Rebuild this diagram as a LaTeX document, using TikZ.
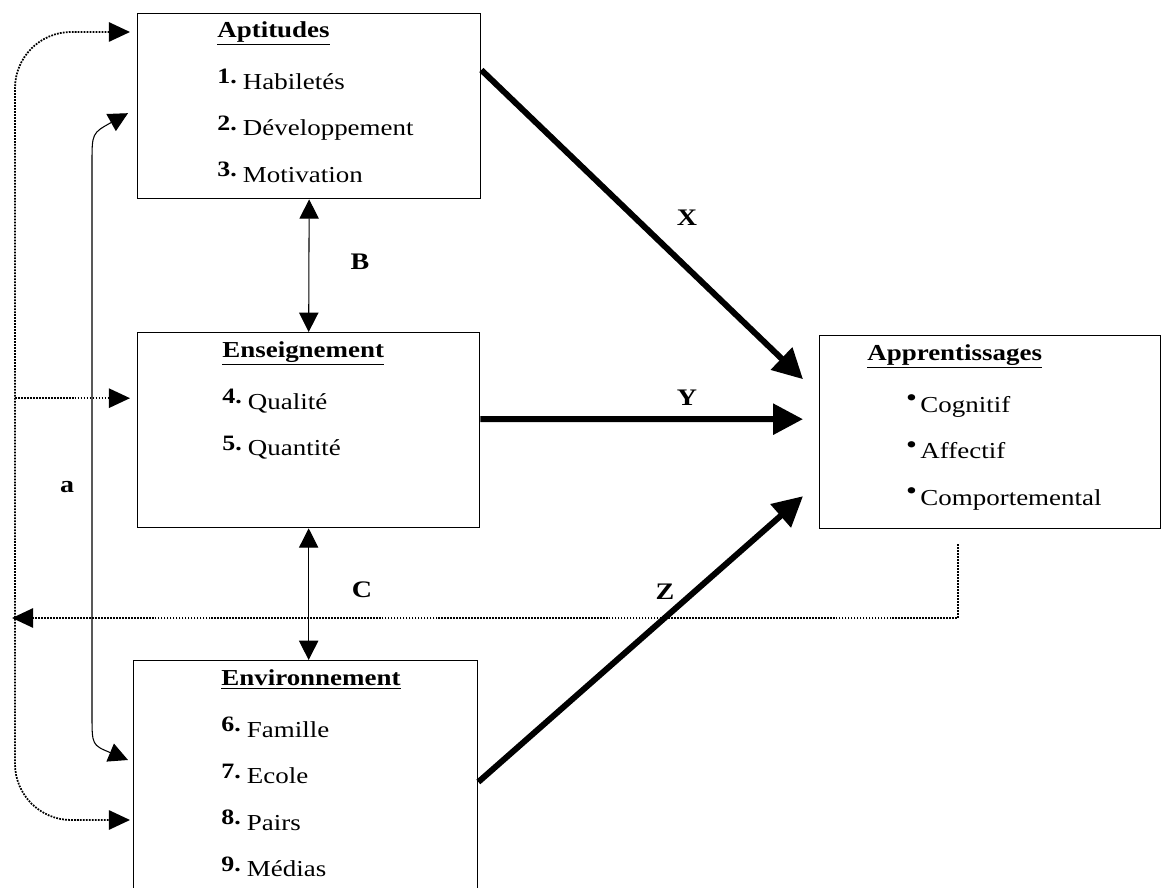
\documentclass[tikz,border=0pt]{standalone}
\usepackage{fontspec}
\setmainfont{Liberation Serif}[FakeStretch=1.18]
\usetikzlibrary{arrows.meta,calc}
\newcommand{\itemno}[1]{\raisebox{3pt}{\fontsize{12.5}{12}\selectfont\bfseries #1.}\hspace{3.5pt}}
\newcommand{\puce}{\raisebox{3pt}{\fontsize{15}{15}\selectfont\textbullet}\hspace{2pt}}
\tikzset{
  box/.style={draw, line width=0.8pt, rectangle, anchor=north west, inner sep=0pt},
  boxtext/.style={anchor=north west, align=left, inner sep=0pt, font=\fontsize{13}{26.5}\selectfont},
  lbl/.style={inner sep=0pt, font=\fontsize{13.5}{15}\selectfont\bfseries},
  path/.style={line width=3.4pt, -{Triangle[length=17pt,width=17pt]}},
  twoway/.style={line width=0.6pt, {Triangle[length=11pt,width=11pt]}-{Triangle[length=11pt,width=11pt]}},
  fb/.style={line width=1pt, dash pattern=on 1pt off 0.7pt, -{Triangle[length=12pt,width=11pt]}},
  fbboth/.style={fb, {Triangle[length=12pt,width=11pt]}-{Triangle[length=12pt,width=11pt]}}
}
\begin{document}
\begin{tikzpicture}[x=0.02cm, y=-0.02cm]
  \useasboundingbox (0,0) rectangle (1170,888);
  \node[box, minimum width=6.86cm, minimum height=3.7cm] (apt) at (137,13) {};
  \node[box, minimum width=6.84cm, minimum height=3.9cm] (ens) at (137,332) {};
  \node[box, minimum width=6.88cm, minimum height=5.2cm] (env) at (133,660) {};
  \node[box, minimum width=6.82cm, minimum height=3.86cm] (appr) at (819,335) {};
  \node[boxtext] (aptT) at ($(apt.north west)+(80,8)$) {\underline{\textbf{Aptitudes}}\\[3pt]
    \itemno{1}Habiletés\\ \itemno{2}Développement\\ \itemno{3}Motivation};
  \node[boxtext] (ensT) at ($(ens.north west)+(85,9)$) {\underline{\textbf{Enseignement}}\\[3pt]
    \itemno{4}Qualité\\ \itemno{5}Quantité};
  \node[boxtext] (envT) at ($(env.north west)+(88,9)$) {\underline{\textbf{Environnement}}\\[3pt]
    \itemno{6}Famille\\ \itemno{7}Ecole\\ \itemno{8}Pairs\\ \itemno{9}Médias};
  \node[boxtext] (apprT) at ($(appr.north west)+(48,9)$) {\underline{\textbf{Apprentissages}}\\[3pt]
    \hspace*{22pt}\puce Cognitif\\ \hspace*{22pt}\puce Affectif\\ \hspace*{22pt}\puce Comportemental};
  \draw[path] ($(apt.north east)+(0,57)$) -- ($(appr.west)+(-16,-53)$);
  \draw[path] ($(ens.east)+(0,-11)$) -- ($(appr.west)+(-16,-13)$);
  \draw[path] ($(env.north east)+(0,122)$) -- ($(appr.west)+(-16,64)$);
  \draw[twoway] (apt.south) -- (ens.north);
  \draw[twoway] (ens.south) -- (ens.south |- env.north);
  \coordinate (aL) at (92,0);
  \coordinate (aptA) at ($(apt.west)+(-9,7)$);
  \coordinate (envA) at ($(env.north west)+(-5,100)$);
  \draw[twoway] (aptA) .. controls ($(aptA -| aL)+(0,20)$) .. ($(aptA -| aL)+(0,50)$)
    -- ($(envA -| aL)+(0,-45)$) .. controls ($(envA -| aL)+(0,-15)$) .. (envA);
  \coordinate (fbx) at (15,0);
  \coordinate (fbstart) at ($(appr.south west)+(139,15)$);
  \coordinate (fbend) at (12,618);
  \coordinate (aptin) at ($(apt.north west)+(-7,19)$);
  \coordinate (ensin) at ($(ens.west)+(-7,-32)$);
  \coordinate (envin) at ($(env.north west)+(-3,160)$);
  \draw[fb] (fbstart) |- (fbend);
  \draw[fbboth, rounded corners=32pt] (aptin) -- (aptin -| fbx) -- (envin -| fbx) -- (envin);
  \draw[fb] (ensin -| fbx) -- (ensin);
  \node[lbl] (lblX) at (687,218) {X};
  \node[lbl] (lblY) at (687,398) {Y};
  \node[lbl] (lblZ) at (665,592) {Z};
  \node[lbl] (lblB) at (360,262) {B};
  \node[lbl] (lblC) at (362,590) {C};
  \node[lbl] (lbla) at (67,487) {a};
\end{tikzpicture}
\end{document}
